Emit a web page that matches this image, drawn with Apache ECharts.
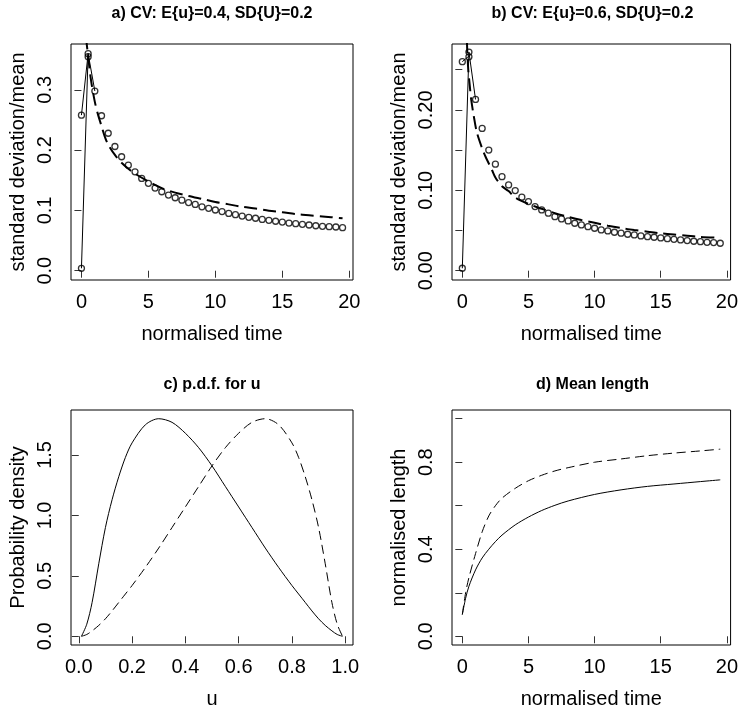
<!DOCTYPE html>
<html><head><meta charset="utf-8">
<script src="https://cdn.jsdelivr.net/npm/echarts@6/dist/echarts.min.js"></script>
<style>html,body{margin:0;padding:0;background:#fff}#c{width:741px;height:711px}</style>
</head><body><div id="c"></div>
<script>
// ---- data: panels a & b (time points)
const tSim = [0,0.5,1,1.5,2,2.5,3,3.5,4,4.5,5,5.5,6,6.5,7,7.5,8,8.5,9,9.5,10,10.5,11,11.5,12,12.5,13,13.5,14,14.5,15,15.5,16,16.5,17,17.5,18,18.5,19,19.5];
const cvA = [0.004,0.360,0.298,0.257,0.228,0.206,0.189,0.175,0.164,0.153,0.145,0.137,0.131,0.1255,0.121,0.117,0.113,0.110,0.106,0.1035,0.1007,0.098,0.095,0.093,0.0907,0.0885,0.087,0.085,0.0836,0.082,0.0807,0.079,0.078,0.077,0.0758,0.0746,0.0736,0.073,0.0725,0.0713];
const cvB = [0.003,0.272,0.213,0.177,0.150,0.1325,0.117,0.1067,0.0996,0.0914,0.086,0.0797,0.0756,0.0715,0.0672,0.0644,0.0619,0.059,0.0569,0.0548,0.0528,0.0507,0.0494,0.0478,0.0466,0.0453,0.0445,0.0432,0.0423,0.0416,0.0407,0.0398,0.039,0.0382,0.0374,0.0366,0.0361,0.0353,0.0349,0.0341];
const extraA = [[0,0.258],[0.5,0.355]];
const extraB = [[0,0.26],[0.5,0.266]];
const solidA1 = [[0,0.004],[0.5,0.36],[1,0.298]];
const solidA2 = [[0,0.258],[0.5,0.36]];
const solidB1 = [[0,0.003],[0.5,0.272],[1,0.213]];
const solidB2 = [[0,0.26],[0.5,0.267]];
const dashA = [[0.3,0.42],[0.38,0.38],[0.5,0.356],[0.7,0.318],[1,0.28],[1.25,0.258],[1.5,0.24],[1.75,0.222],[2,0.209],[2.5,0.192],[3,0.179],[3.5,0.169],[4,0.161],[5,0.148],[6,0.137],[7,0.1295],[8,0.124],[9,0.119],[10,0.114],[11,0.110],[12,0.106],[13,0.103],[14,0.0995],[15,0.097],[16,0.094],[17,0.092],[18,0.090],[19.5,0.087]];
const dashB = [[0.3,0.31],[0.37,0.275],[0.45,0.25],[0.57,0.229],[0.67,0.213],[0.87,0.192],[1.1,0.172],[1.5,0.152],[1.75,0.142],[2.25,0.125],[2.5,0.116],[3,0.105],[3.5,0.099],[4,0.091],[5,0.083],[6,0.077],[7,0.0715],[8,0.067],[9,0.063],[10,0.0595],[11,0.056],[12,0.053],[13,0.0505],[14,0.0485],[15,0.0465],[16,0.045],[17,0.0435],[18,0.042],[19.5,0.041]];
// ---- panel c
const uGrid = [0.01,0.03,0.05,0.075,0.1,0.125,0.15,0.175,0.2,0.25,0.3,0.35,0.4,0.45,0.5,0.55,0.6,0.65,0.7,0.75,0.8,0.825,0.85,0.875,0.9,0.925,0.95,0.97,0.99];
const pdfSolid = [0,0.1,0.28,0.6,0.9,1.13,1.32,1.48,1.6,1.75,1.80,1.77,1.68,1.56,1.41,1.24,1.07,0.90,0.73,0.57,0.42,0.35,0.28,0.21,0.145,0.09,0.045,0.015,0];
const pdfDashed = [0,0.015,0.045,0.09,0.145,0.21,0.28,0.35,0.42,0.57,0.73,0.90,1.07,1.24,1.41,1.56,1.68,1.77,1.80,1.75,1.6,1.48,1.32,1.13,0.9,0.6,0.28,0.1,0];
// ---- panel d
const tLen = [0,0.25,0.5,1,1.5,2,2.5,3,4,5,6,7,8,10,12,14,16,18,19.5];
const lenSolid = [0.1,0.175,0.23,0.305,0.36,0.40,0.435,0.465,0.512,0.548,0.578,0.602,0.622,0.652,0.673,0.689,0.70,0.711,0.719];
const lenDashed = [0.1,0.2,0.27,0.38,0.48,0.553,0.60,0.635,0.68,0.715,0.74,0.76,0.775,0.80,0.815,0.83,0.842,0.852,0.86];
// ---- ticks
const tTicks = [0,5,10,15,20], tLabels = ['0','5','10','15','20'];
const yTicksA = [0,0.1,0.2,0.3], yLabelsA = ['0.0','0.1','0.2','0.3'];
const yTicksB = [0,0.05,0.1,0.15,0.2,0.25], yLabelsB = ['0.00','0.10','0.20'], yLabPosB = [0,0.1,0.2];
const uTicks = [0,0.2,0.4,0.6,0.8,1.0], uLabels = ['0.0','0.2','0.4','0.6','0.8','1.0'];
const yTicksC = [0,0.5,1.0,1.5], yLabelsC = ['0.0','0.5','1.0','1.5'];
const yTicksD = [0,0.2,0.4,0.6,0.8,1.0], yLabelsD = ['0.0','0.4','0.8'], yLabPosD = [0,0.4,0.8];
const titles = ['a) CV: E{u}=0.4, SD{U}=0.2','b) CV: E{u}=0.6, SD{U}=0.2','c) p.d.f. for u','d) Mean length'];

const FONT = '"Liberation Sans", Arial, Helvetica, sans-serif';
const zip = (xs, ys) => xs.map((x, i) => [x, ys[i]]);
function fmt(pos, labs) { return v => { const i = pos.findIndex(p => Math.abs(p - v) < 1e-9); return i >= 0 ? labs[i] : ''; }; }
function ax(dim, gi, min, max, ticks, labPos, labs, name) {
  const isY = dim === 'y';
  return {
    type: 'value', gridIndex: gi, min, max,
    axisLine: { show: false }, splitLine: { show: false },
    axisTick: { show: true, length: 7, customValues: ticks, lineStyle: { color: '#333', width: 1 } },
    axisLabel: { customValues: labPos, formatter: fmt(labPos, labs), fontSize: 20, fontFamily: FONT, color: '#000',
                 margin: isY ? 16 : 12, rotate: isY ? 90 : 0 },
    name, nameLocation: 'middle', nameGap: isY ? 43 : 44,
    nameTextStyle: { fontSize: 20, fontFamily: FONT, color: '#000' }
  };
}
const grids = [
  { left: 71, top: 44, width: 282, height: 236 },
  { left: 452, top: 44, width: 281, height: 236 },
  { left: 71, top: 410, width: 282, height: 235 },
  { left: 452, top: 410, width: 281, height: 235 }
].map(g => Object.assign(g, { show: true, borderColor: '#000', borderWidth: 1, backgroundColor: 'transparent' }));

const xAxes = [
  ax('x', 0, -0.78, 20.28, tTicks, tTicks, tLabels, 'normalised time'),
  ax('x', 1, -0.78, 20.28, tTicks, tTicks, tLabels, 'normalised time'),
  ax('x', 2, -0.0292, 1.0292, uTicks, uTicks, uLabels, 'u'),
  ax('x', 3, -0.78, 20.28, tTicks, tTicks, tLabels, 'normalised time')
];
const yAxes = [
  ax('y', 0, -0.0154, 0.376, yTicksA, yTicksA, yLabelsA, 'standard deviation/mean'),
  ax('y', 1, -0.0116, 0.282, yTicksB, yLabPosB, yLabelsB, 'standard deviation/mean'),
  ax('y', 2, -0.072, 1.872, yTicksC, yTicksC, yLabelsC, 'Probability density'),
  ax('y', 3, -0.04, 1.04, yTicksD, yLabPosD, yLabelsD, 'normalised length')
];
function pts(i, data) {
  return { type: 'scatter', xAxisIndex: i, yAxisIndex: i, data, symbol: 'circle', symbolSize: 6,
    itemStyle: { color: 'rgba(0,0,0,0)', borderColor: '#000', borderWidth: 1.3 }, silent: true, z: 3 };
}
function line(i, data, dash, width, smooth) {
  return { type: 'line', xAxisIndex: i, yAxisIndex: i, data, showSymbol: false, symbol: 'none', clip: true,
    smooth: smooth || false, lineStyle: { color: '#000', width: width || 1, type: dash || 'solid' }, silent: true, z: 2 };
}
const series = [
  pts(0, zip(tSim, cvA)), pts(0, extraA),
  line(0, solidA1), line(0, solidA2), line(0, dashA, [13, 6], 2, 0.3),
  pts(1, zip(tSim, cvB)), pts(1, extraB),
  line(1, solidB1), line(1, solidB2), line(1, dashB, [13, 6], 2, 0.3),
  line(2, zip(uGrid, pdfSolid), 'solid', 1, 0.3), line(2, zip(uGrid, pdfDashed), [9, 5], 1, 0.3),
  line(3, zip(tLen, lenSolid), 'solid', 1, 0.3), line(3, zip(tLen, lenDashed), [9, 5], 1, 0.3)
];
const titleCenters = [[212, 6], [592.5, 6], [212, 377], [592.5, 377]];
const chart = echarts.init(document.getElementById('c'), null, { renderer: 'canvas' });
chart.setOption({
  animation: false, backgroundColor: '#fff',
  title: titles.map((t, i) => ({ text: t, left: titleCenters[i][0], top: titleCenters[i][1], textAlign: 'center', padding: 0,
    textStyle: { fontSize: 16, fontWeight: 'bold', fontFamily: FONT, color: '#000' } })),
  grid: grids, xAxis: xAxes, yAxis: yAxes, series
});
</script></body></html>
